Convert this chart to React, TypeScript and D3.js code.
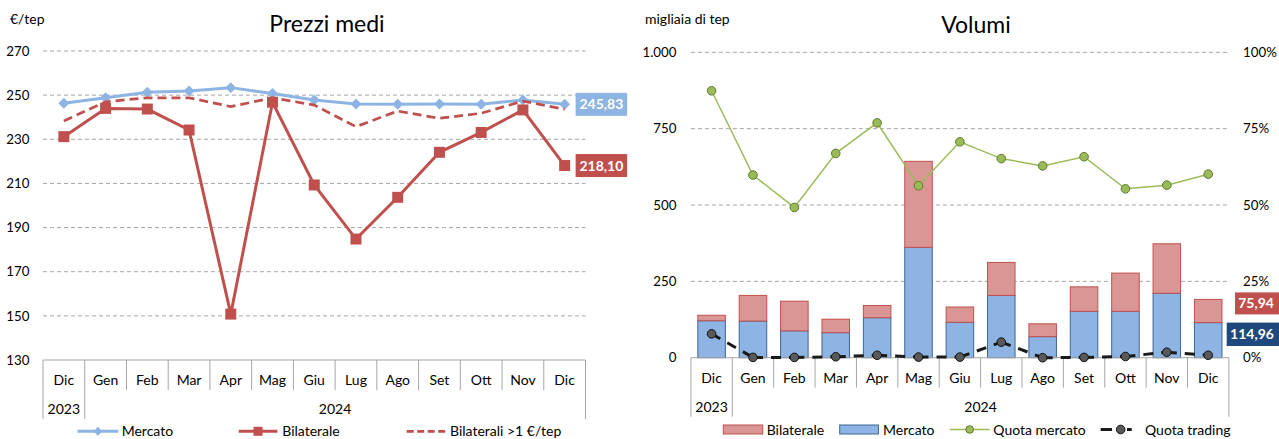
import React from 'react';
import * as d3 from 'd3';

// ---------- DATA ----------
const months = ["Dic", "Gen", "Feb", "Mar", "Apr", "Mag", "Giu", "Lug", "Ago", "Set", "Ott", "Nov", "Dic"];
const yearLabels = ["2023", "2024"];
const yearSpans = [1, 12];

const prezziMercato = [246.3, 248.8, 251.3, 251.9, 253.4, 250.7, 247.8, 246.0, 245.9, 246.0, 245.9, 247.8, 245.83];
const prezziBilaterale = [231.2, 244.0, 243.7, 234.2, 150.8, 246.8, 209.3, 184.8, 203.7, 224.1, 233.1, 243.3, 218.10];
const prezziBilaterali1 = [238.3, 247.0, 248.8, 248.8, 244.8, 248.8, 245.5, 235.7, 242.8, 239.5, 241.8, 247.3, 243.6];
const prezziTicks = [130, 150, 170, 190, 210, 230, 250, 270];

const volMercato = [121, 120, 88, 82, 131, 361.5, 116, 204, 69, 152, 152, 211, 114.96];
const volBilaterale = [18, 84, 97, 44, 40, 281.5, 50, 108, 42, 80, 125, 162, 75.94];
const quotaMercato = [0.874, 0.598, 0.492, 0.669, 0.769, 0.563, 0.707, 0.652, 0.628, 0.658, 0.553, 0.565, 0.601];
const quotaTrading = [0.078, 0.001, 0.001, 0.003, 0.008, 0.002, 0.002, 0.051, 0.0, 0.001, 0.004, 0.018, 0.008];
const volTicks = [0, 250, 500, 750, 1000];
const volTickLabels = ["0", "250", "500", "750", "1.000"];
const pctTicks = [0, 0.25, 0.5, 0.75, 1];
const pctTickLabels = ["0%", "25%", "50%", "75%", "100%"];

// ---------- STYLE ----------
const FONT = "Lato, 'Open Sans', sans-serif";
const GRID = "#A6A6A6";
const AXIS = "#A6A6A6";
const C_BLUE = "#8DB4E2";
const C_RED = "#C0504D";
const C_BAR_RED = "#DA9694";
const C_BAR_BLUE_STROKE = "#3E6597";
const C_GREEN = "#9BBB59";
const C_GREEN_DARK = "#5F7A2E";
const C_DARKBLUE = "#1F497D";
const TICK_FS = 13.3;
const CAT_FS = 14;
const LEG_FS = 14;

const itFmt = d3.formatLocale({ decimal: ",", thousands: ".", grouping: [3], currency: ["€", ""] }).format(".2f");

const idx = months.map((_, i) => i);

function CategoryAxis({ x, y0 }: { x: d3.ScaleBand<number>; y0: number }) {
  const bw = x.bandwidth();
  const x0 = x.range()[0];
  const x1 = x.range()[1];
  const lines = [];
  for (let i = 0; i <= months.length; i++) {
    const xx = x0 + i * bw;
    const full = i === 0 || i === yearSpans[0] || i === months.length;
    lines.push(<line key={i} x1={xx} x2={xx} y1={y0} y2={y0 + (full ? 59 : 30)} stroke={AXIS} strokeWidth={1} />);
  }
  let start = 0;
  const yrs = yearLabels.map((lab, k) => {
    const s = start;
    start += yearSpans[k];
    const cx = x0 + (s + yearSpans[k] / 2) * bw;
    return <text key={lab} x={cx} y={y0 + 54} textAnchor="middle" fontSize={CAT_FS} fontFamily={FONT}>{lab}</text>;
  });
  return (
    <g>
      <line x1={x0} x2={x1} y1={y0} y2={y0} stroke={AXIS} strokeWidth={1} />
      {lines}
      {idx.map((i) => (
        <text key={i} x={(x(i) as number) + bw / 2} y={y0 + 25.3} textAnchor="middle" fontSize={CAT_FS} fontFamily={FONT}>{months[i]}</text>
      ))}
      {yrs}
    </g>
  );
}

function PrezziChart() {
  const x = d3.scaleBand<number>().domain(idx).range([43, 585.5]).padding(0);
  const y = d3.scaleLinear().domain([130, 270]).range([360, 51]);
  const cx = (i: number) => (x(i) as number) + x.bandwidth() / 2;
  const line = d3.line<number>().x((_, i) => cx(i)).y((d) => y(d));
  const diamond = d3.symbol(d3.symbolSquare, 60)();
  const square = d3.symbol(d3.symbolSquare, 121)();
  const last = months.length - 1;
  const LY = 431.3;
  return (
    <g>
      <text x={327} y={32} textAnchor="middle" fontSize={23} fontFamily={FONT}>Prezzi medi</text>
      <text x={10} y={24} fontSize={14} fontFamily={FONT}>€/tep</text>
      {prezziTicks.map((t) => (
        <g key={t}>
          {t !== prezziTicks[0] && (
            <line x1={43} x2={585.5} y1={y(t)} y2={y(t)} stroke={GRID} strokeDasharray="4 3" strokeWidth={1} />
          )}
          <text x={29.5} y={y(t) + 4.7} textAnchor="end" fontSize={TICK_FS} fontFamily={FONT}>{t}</text>
        </g>
      ))}
      <CategoryAxis x={x} y0={y(130)} />
      {/* Mercato */}
      <path d={line(prezziMercato) as string} fill="none" stroke={C_BLUE} strokeWidth={3} />
      {prezziMercato.map((d, i) => (
        <path key={i} d={diamond as string} transform={`translate(${cx(i)},${y(d)}) rotate(45)`} fill={C_BLUE} />
      ))}
      {/* Bilaterale */}
      <path d={line(prezziBilaterale) as string} fill="none" stroke={C_RED} strokeWidth={3} />
      {prezziBilaterale.map((d, i) => (
        <path key={i} d={square as string} transform={`translate(${cx(i)},${y(d)})`} fill={C_RED} />
      ))}
      {/* Bilaterali > 1 */}
      <path d={line(prezziBilaterali1) as string} fill="none" stroke={C_RED} strokeWidth={2.75} strokeDasharray="9 5" />
      {/* labels */}
      <g>
        <rect x={cx(last) + 11} y={y(prezziMercato[last]) - 11.5} width={51.5} height={23} fill={C_BLUE} />
        <text x={cx(last) + 11 + 25.75} y={y(prezziMercato[last]) + 5} textAnchor="middle" fontSize={14} fontWeight="bold" fill="#fff" fontFamily={FONT}>{itFmt(prezziMercato[last])}</text>
        <rect x={cx(last) + 11} y={y(prezziBilaterale[last]) - 11.5} width={51.5} height={23} fill={C_RED} />
        <text x={cx(last) + 11 + 25.75} y={y(prezziBilaterale[last]) + 5} textAnchor="middle" fontSize={14} fontWeight="bold" fill="#fff" fontFamily={FONT}>{itFmt(prezziBilaterale[last])}</text>
      </g>
      {/* legend */}
      <g fontFamily={FONT} fontSize={LEG_FS}>
        <line x1={77.5} x2={118.3} y1={LY} y2={LY} stroke={C_BLUE} strokeWidth={3} />
        <path d={d3.symbol(d3.symbolSquare, 40)() as string} transform={`translate(97.9,${LY}) rotate(45)`} fill={C_BLUE} />
        <text x={121.7} y={LY + 4.9}>Mercato</text>
        <line x1={238.7} x2={277.4} y1={LY} y2={LY} stroke={C_RED} strokeWidth={3} />
        <path d={d3.symbol(d3.symbolSquare, 81)() as string} transform={`translate(258,${LY})`} fill={C_RED} />
        <text x={282.3} y={LY + 4.9}>Bilaterale</text>
        <line x1={406.7} x2={446.7} y1={LY} y2={LY} stroke={C_RED} strokeWidth={2.75} strokeDasharray="7 3.5" />
        <text x={450} y={LY + 4.9}>Bilaterali &gt;1 €/tep</text>
      </g>
    </g>
  );
}

function VolumiChart() {
  const x = d3.scaleBand<number>().domain(idx).range([690.9, 1228.9]).padding(0);
  const y = d3.scaleLinear().domain([0, 1000]).range([357.7, 52.3]);
  const yp = d3.scaleLinear().domain([0, 1]).range([357.7, 52.3]);
  const bw = x.bandwidth();
  const barW = bw * 0.665;
  const cx = (i: number) => (x(i) as number) + bw / 2;
  const qmLine = d3.line<number>().x((_, i) => cx(i)).y((d) => yp(d));
  const last = months.length - 1;
  const totLast = volMercato[last] + volBilaterale[last];
  return (
    <g>
      <text x={976} y={32.5} textAnchor="middle" fontSize={23} fontFamily={FONT}>Volumi</text>
      <text x={645} y={24} fontSize={14} fontFamily={FONT}>migliaia di tep</text>
      {volTicks.map((t, k) => (
        <g key={t}>
          {t !== 0 && (
            <line x1={690.9} x2={1228.9} y1={y(t)} y2={y(t)} stroke={GRID} strokeDasharray="4 3" strokeWidth={1} />
          )}
          <text x={676.5} y={y(t) + 4.7} textAnchor="end" fontSize={TICK_FS} fontFamily={FONT}>{volTickLabels[k]}</text>
        </g>
      ))}
      {pctTicks.map((t, k) => (
        <text key={t} x={1243} y={yp(t) + 4.7} fontSize={TICK_FS} fontFamily={FONT}>{pctTickLabels[k]}</text>
      ))}
      {/* bars */}
      {idx.map((i) => {
        const bx = cx(i) - barW / 2;
        const m = volMercato[i];
        const b = volBilaterale[i];
        return (
          <g key={i}>
            <rect x={bx} y={y(m)} width={barW} height={y(0) - y(m)} fill={C_BLUE} stroke={C_BAR_BLUE_STROKE} strokeWidth={1} />
            <rect x={bx} y={y(m + b)} width={barW} height={y(m) - y(m + b)} fill={C_BAR_RED} stroke={C_RED} strokeWidth={1} />
          </g>
        );
      })}
      <CategoryAxis x={x} y0={y(0)} />
      {/* quota mercato */}
      <path d={qmLine(quotaMercato) as string} fill="none" stroke={C_GREEN} strokeWidth={1.5} />
      {quotaMercato.map((d, i) => (
        <circle key={i} cx={cx(i)} cy={yp(d)} r={4.3} fill={C_GREEN} stroke={C_GREEN_DARK} strokeWidth={1} />
      ))}
      {/* quota trading */}
      {quotaTrading.slice(1).map((d, k) => (
        <line key={k} x1={cx(k)} y1={yp(quotaTrading[k])} x2={cx(k + 1)} y2={yp(d)} stroke="#1a1a1a" strokeWidth={3} strokeDasharray="10 8" />
      ))}
      {quotaTrading.map((d, i) => (
        <circle key={i} cx={cx(i)} cy={yp(d)} r={4.3} fill="#595959" stroke="#111" strokeWidth={1} />
      ))}
      {/* end labels */}
      <rect x={1235} y={y(totLast) + 4 - 11} width={50} height={22} fill={C_RED} />
      <text x={1274} y={y(totLast) + 4 + 5} textAnchor="end" fontSize={14} fontWeight="bold" fill="#fff" fontFamily={FONT}>{itFmt(volBilaterale[last])}</text>
      <rect x={1226.7} y={y(volMercato[last]) + 11.7 - 11.7} width={58} height={23.4} fill={C_DARKBLUE} />
      <text x={1274} y={y(volMercato[last]) + 11.7 + 5} textAnchor="end" fontSize={14} fontWeight="bold" fill="#fff" fontFamily={FONT}>{itFmt(volMercato[last])}</text>
      {/* legend */}
      <g fontFamily={FONT} fontSize={LEG_FS}>
        <rect x={723.3} y={425} width={39.4} height={9} fill={C_BAR_RED} stroke={C_RED} strokeWidth={1} />
        <text x={766.7} y={434.5}>Bilaterale</text>
        <rect x={839.7} y={425} width={38.7} height={9} fill={C_BLUE} stroke={C_BAR_BLUE_STROKE} strokeWidth={1} />
        <text x={883} y={434.5}>Mercato</text>
        <line x1={949.7} x2={989.6} y1={429.5} y2={429.5} stroke={C_GREEN} strokeWidth={1.5} />
        <circle cx={969.7} cy={429.5} r={3.8} fill={C_GREEN} stroke={C_GREEN_DARK} strokeWidth={1} />
        <text x={993.3} y={434.5}>Quota mercato</text>
        <line x1={1100.7} x2={1112} y1={429.5} y2={429.5} stroke="#1a1a1a" strokeWidth={3} />
        <line x1={1127} x2={1131.7} y1={429.5} y2={429.5} stroke="#1a1a1a" strokeWidth={3} />
        <circle cx={1120.7} cy={429.5} r={4.3} fill="#595959" stroke="#111" strokeWidth={1} />
        <text x={1145} y={434.5}>Quota trading</text>
      </g>
    </g>
  );
}

export default function App() {
  return (
    <svg width={1279} height={439} viewBox="0 0 1279 439" style={{ position: 'absolute', left: 0, top: 0, background: '#fff' }}>
      <rect x={0} y={0} width={1279} height={439} fill="#fff" />
      <PrezziChart />
      <VolumiChart />
    </svg>
  );
}
